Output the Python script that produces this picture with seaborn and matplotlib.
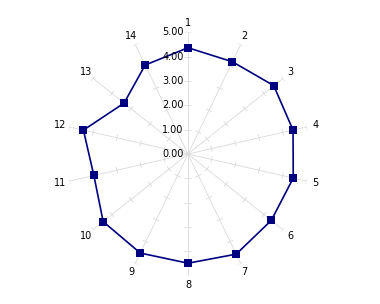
import numpy as np
import pandas as pd
import seaborn as sns
import matplotlib
matplotlib.use("Agg")
import matplotlib.pyplot as plt

categories = ["1", "2", "3", "4", "5", "6", "7", "8", "9", "10", "11", "12", "13", "14"]
values = [4.37, 4.21, 4.51, 4.43, 4.44, 4.38, 4.57, 4.49, 4.52, 4.46, 3.97, 4.41, 3.36, 4.06]
radial_ticks = [0, 1, 2, 3, 4, 5]
radial_labels = ["0.00", "1.00", "2.00", "3.00", "4.00", "5.00"]

sns.set_style("white")
plt.rcParams['font.family'] = ['DejaVu Sans']

fig = plt.figure(figsize=(3.8, 3.04), dpi=100)
ax = fig.add_axes([0.1747, 0.0934, 0.64, 0.8], projection="polar")
ax.set_theta_zero_location("N")
ax.set_theta_direction(-1)
ax.set_rlim(0, 5)
ax.grid(False)
ax.spines["polar"].set_visible(False)
ax.set_xticks([])
ax.set_yticks([])
ax.set_facecolor("none")

n = len(categories)
angles = np.arange(n) * 2 * np.pi / n
rmax = radial_ticks[-1]
spoke_color = "#dadada"
px_per_unit = 121.6 / 5.0
tick_half_px = 3.0

for a in angles:
    ax.plot([a, a], [0, rmax], color=spoke_color, lw=0.6, zorder=1)
    for r in radial_ticks[1:]:
        d = tick_half_px / (r * px_per_unit)
        ax.plot([a - d, a + d], [r, r], color=spoke_color, lw=0.6, zorder=1)

df = pd.DataFrame({
    "theta": list(angles) + [2 * np.pi],
    "r": values + [values[0]],
})
sns.lineplot(data=df, x="theta", y="r", ax=ax, sort=False, color="#000080",
             lw=1.2, marker="s", markersize=5.5, markeredgewidth=0, zorder=3)
ax.set_xlabel("")
ax.set_ylabel("")
ax.set_rlim(0, 5)

for a, lab in zip(angles, categories):
    ax.text(a, 5.38, lab, ha="center", va="center", fontsize=7, color="black", clip_on=False)

for r, lab in zip(radial_ticks, radial_labels):
    ax.annotate(lab, xy=(0, r), xytext=(-3, 0), textcoords="offset points",
                ha="right", va="center", fontsize=7, color="black", annotation_clip=False)

fig.savefig("out.png", dpi=100)
